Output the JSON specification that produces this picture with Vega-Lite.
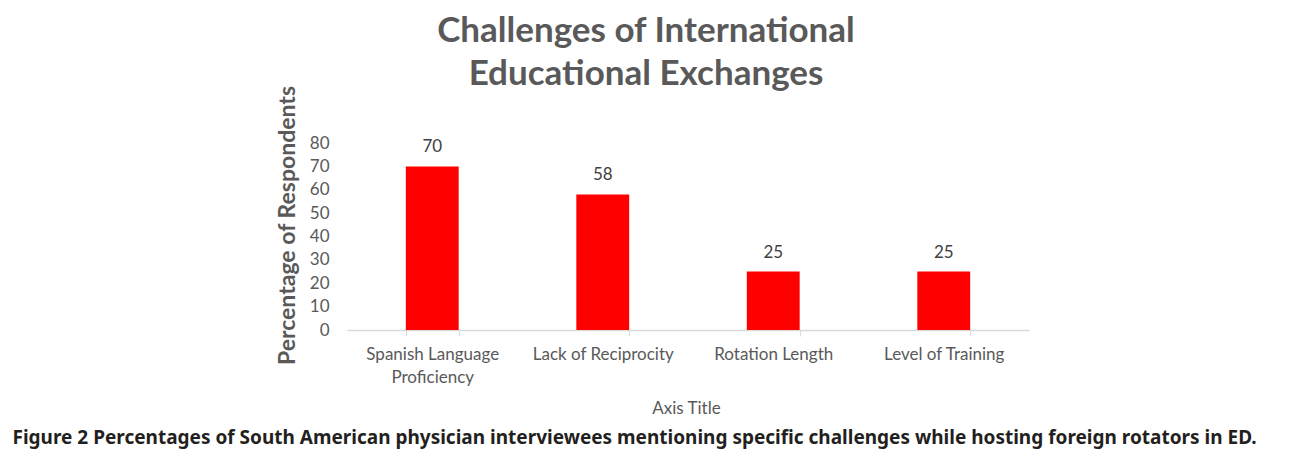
{
  "$schema": "https://vega.github.io/schema/vega-lite/v6.json",
  "autosize": {"type": "none"},
  "padding": {"left": 347, "top": 143, "right": 263, "bottom": 125},
  "width": 682,
  "height": 187,
  "background": "white",
  "title": {
    "text": ["Challenges of International", "Educational Exchanges"],
    "font": "Lato",
    "fontSize": 35,
    "fontWeight": "bold",
    "color": "#595959",
    "anchor": "middle",
    "frame": "group",
    "lineHeight": 43,
    "dx": -42,
    "offset": -7
  },
  "data": {
    "values": [
      {"challenge": "Spanish Language Proficiency", "percent": 70},
      {"challenge": "Lack of Reciprocity", "percent": 58},
      {"challenge": "Rotation Length", "percent": 25},
      {"challenge": "Level of Training", "percent": 25}
    ]
  },
  "encoding": {
    "x": {
      "field": "challenge",
      "type": "nominal",
      "sort": null,
      "scale": {"paddingInner": 0.69, "paddingOuter": 0.345}
    },
    "y": {
      "field": "percent",
      "type": "quantitative",
      "scale": {"domain": [0, 80], "nice": false},
      "axis": {
        "title": "Percentage of Respondents",
        "values": [0, 10, 20, 30, 40, 50, 60, 70, 80],
        "grid": false,
        "domain": false,
        "ticks": false,
        "labelFont": "Lato",
        "labelFontSize": 17,
        "labelColor": "#595959",
        "labelPadding": 18,
        "titleFont": "Lato",
        "titleFontSize": 23,
        "titleFontWeight": "bold",
        "titleColor": "#595959",
        "titleAngle": -90,
        "titleX": -53,
        "titleY": 82,
        "titleAlign": "center",
        "titleBaseline": "alphabetic"
      }
    }
  },
  "layer": [
    {
      "mark": {"type": "bar", "color": "#FF0000"},
      "encoding": {
        "x": {
          "field": "challenge",
          "type": "nominal",
          "sort": null,
          "axis": {
            "orient": "bottom",
            "title": "Axis Title",
            "labelAngle": 0,
            "tickBand": "extent",
            "tickSize": 6,
            "tickColor": "#d9d9d9",
            "domainColor": "#d9d9d9",
            "domainWidth": 1.5,
            "labelFont": "Lato",
            "labelFontSize": 17,
            "labelColor": "#595959",
            "labelPadding": 10,
            "labelLineHeight": 23,
            "labelExpr": "datum.label == 'Spanish Language Proficiency' ? ['Spanish Language', 'Proficiency'] : datum.label",
            "titleFont": "Lato",
            "titleFontSize": 17,
            "titleFontWeight": "normal",
            "titleColor": "#595959",
            "titleX": 339,
            "titleY": 83,
            "titleAlign": "center",
            "titleBaseline": "alphabetic"
          }
        }
      }
    },
    {
      "mark": {"type": "text", "font": "Lato", "fontSize": 17, "color": "#404040", "baseline": "alphabetic", "dy": -14},
      "encoding": {
        "text": {"field": "percent", "type": "quantitative"},
        "x": {
          "field": "challenge",
          "type": "nominal",
          "sort": null,
          "axis": {
            "orient": "bottom",
            "title": "Figure 2 Percentages of South American physician interviewees mentioning specific challenges while hosting foreign rotators in ED.",
            "labels": false,
            "ticks": false,
            "domain": false,
            "titleFont": "Noto Sans",
            "titleFontSize": 19,
            "titleFontWeight": "bold",
            "titleColor": "#231f20",
            "titleX": -335,
            "titleY": 113,
            "titleAlign": "left",
            "titleBaseline": "alphabetic"
          }
        }
      }
    }
  ],
  "resolve": {"axis": {"x": "independent"}},
  "config": {"view": {"stroke": null}}
}
